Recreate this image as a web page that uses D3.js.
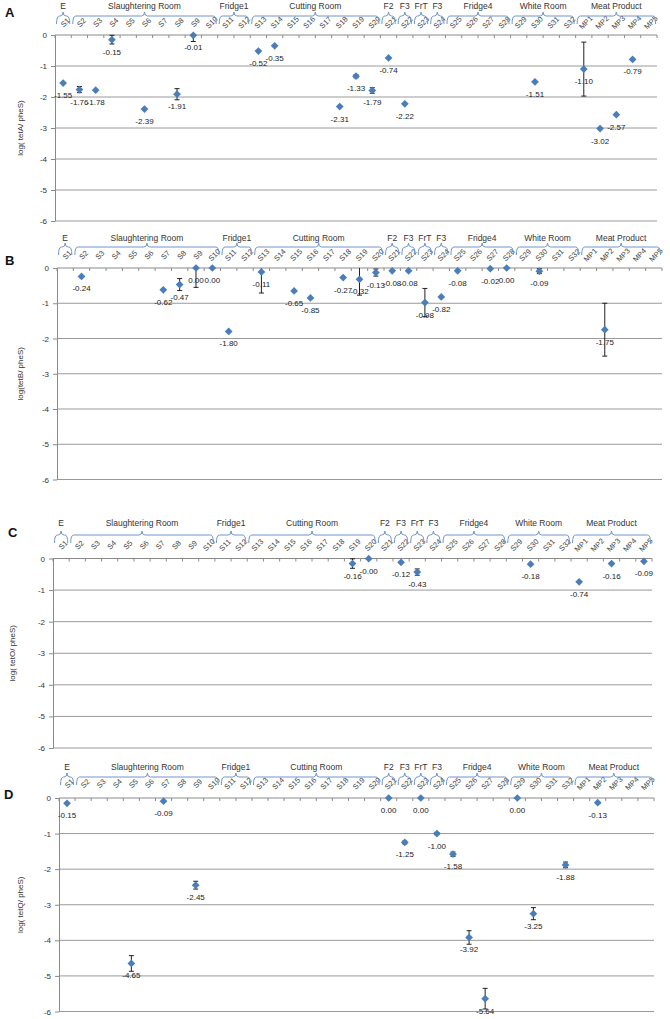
<!DOCTYPE html>
<html>
<head>
<meta charset="utf-8">
<script src="https://cdn.jsdelivr.net/npm/d3@7"></script>
<style>
  body { margin: 0; background: #fff; }
  text { font-family: "Liberation Sans", Arial, sans-serif; }
</style>
</head>
<body>
<svg id="chart" width="670" height="1019"></svg>
<script>
// categories along the top axis
const categories = ["S1","S2","S3","S4","S5","S6","S7","S8","S9","S10",
  "S11","S12","S13","S14","S15","S16","S17","S18","S19","S20",
  "S21","S22","S23","S24","S25","S26","S27","S28","S29","S30","S31","S32",
  "MP1","MP2","MP3","MP4","MP5"];
const groupNames = ["E","Slaughtering Room","Fridge1","Cutting Room","F2","F3","FrT","F3","Fridge4","White Room","Meat Product"];
const groupSizes = [1, 9, 2, 8, 1, 1, 1, 1, 4, 4, 5];
const yTicks = [0, -1, -2, -3, -4, -5, -6];

// A - tetA
const tetACats = ["S1","S2","S3","S4","S6","S8","S9","S13","S14","S18","S19","S20","S21","S22","S30","MP1","MP2","MP3","MP4"];
const tetAValues = [-1.55,-1.76,-1.78,-0.15,-2.39,-1.91,-0.01,-0.52,-0.35,-2.31,-1.33,-1.79,-0.74,-2.22,-1.51,-1.10,-3.02,-2.57,-0.79];
const tetAErrors = [0,0.1,0,0.14,0,0.18,0.2,0,0,0,0.05,0.09,0,0,0,0.87,0,0,0];

// B - tetB
const tetBCats = ["S2","S7","S8","S9","S10","S11","S13","S15","S16","S18","S19","S20","S21","S22","S23","S24","S25","S27","S28","S30","MP2"];
const tetBValues = [-0.24,-0.62,-0.47,0.00,0.00,-1.80,-0.11,-0.65,-0.85,-0.27,-0.32,-0.13,-0.08,-0.08,-0.98,-0.82,-0.08,-0.02,0.00,-0.09,-1.75];
const tetBErrors = [0,0,0.17,0.55,0,0,0.6,0,0,0,0.45,0.1,0,0,0.4,0,0,0,0,0.07,0.75];

// C - tetO
const tetOCats = ["S19","S20","S22","S23","S30","MP1","MP3","MP5"];
const tetOValues = [-0.16,-0.004,-0.12,-0.43,-0.18,-0.74,-0.16,-0.09];
const tetOErrors = [0.15,0,0,0.1,0,0,0,0];

// D - tetQ
const tetQCats = ["S1","S5","S7","S9","S21","S22","S23","S24","S25","S26","S27","S29","S30","S32","MP2"];
const tetQValues = [-0.15,-4.65,-0.09,-2.45,0.00,-1.25,0.00,-1.00,-1.58,-3.92,-5.64,0.00,-3.25,-1.88,-0.13];
const tetQErrors = [0,0.22,0,0.11,0,0.04,0,0.03,0.06,0.19,0.29,0,0.17,0.08,0];

const panels = [
  { letter: "A", title: "log( tetA/ pheS)", cats: tetACats, vals: tetAValues, errs: tetAErrors,
    left: 55, right: 657, top: 35, bottom: 221, letterX: 5, letterY: 17, titleX: 20, head: [29, 19, 12.5] },
  { letter: "B", title: "log(tetB/ pheS)", cats: tetBCats, vals: tetBValues, errs: tetBErrors,
    left: 57, right: 662, top: 268, bottom: 479.5, letterX: 5, letterY: 265, titleX: 20, head: [30, 21, 13] },
  { letter: "C", title: "log( tetO/ pheS)", cats: tetOCats, vals: tetOValues, errs: tetOErrors,
    left: 53, right: 652, top: 558.5, bottom: 748, letterX: 8, letterY: 537, titleX: 12, head: [35.5, 23.5, 13.5] },
  { letter: "D", title: "log( tetQ/ pheS)", cats: tetQCats, vals: tetQValues, errs: tetQErrors,
    left: 59, right: 654, top: 798, bottom: 1011.5, letterX: 4, letterY: 799, titleX: 20, head: [31, 21, 14.5] }
];

const svg = d3.select("#chart");
const axisGrey = "#8a8a8a";
const bracketBlue = "#7096cc";
const markerBlue = "#4a7ebb";

function drawPanel(p) {
  const x = d3.scaleBand().domain(categories).range([p.left, p.right]);
  const y = d3.scaleLinear().domain([-6, 0]).range([p.bottom, p.top]);
  const g = svg.append("g");

  // horizontal gridlines
  g.selectAll(".grid")
    .data(yTicks.filter(t => t < 0))
    .join("line")
    .attr("class", "grid")
    .attr("x1", p.left).attr("x2", p.right)
    .attr("y1", d => y(d)).attr("y2", d => y(d))
    .attr("stroke", "#9a9a9a").attr("stroke-width", 1);

  // value axis
  const yAxis = g.append("g")
    .attr("transform", "translate(" + p.left + ",0)")
    .call(d3.axisLeft(y).tickValues(yTicks).tickSize(4).tickSizeOuter(0).tickFormat(d => String(d)));
  yAxis.select(".domain").attr("stroke", axisGrey);
  yAxis.selectAll(".tick line").attr("stroke", axisGrey);
  yAxis.selectAll(".tick text")
    .attr("x", -8)
    .style("font-size", "8px").style("fill", "#333");

  // category axis along the top (crosses at 0)
  g.append("line")
    .attr("x1", p.left).attr("x2", p.right)
    .attr("y1", y(0)).attr("y2", y(0))
    .attr("stroke", axisGrey).attr("stroke-width", 1);
  const bounds = categories.map(c => x(c)).concat([p.right]);
  g.selectAll(".ctick")
    .data(bounds)
    .join("line")
    .attr("x1", d => d).attr("x2", d => d)
    .attr("y1", y(0)).attr("y2", y(0) + 3)
    .attr("stroke", axisGrey);

  // rotated category labels
  g.selectAll(".clabel")
    .data(categories)
    .join("text")
    .attr("transform", d => "translate(" + (x(d) + x.bandwidth() / 2 + 2) + "," + (p.top - p.head[2]) + ") rotate(-45)")
    .attr("text-anchor", "middle")
    .attr("dy", "0.35em")
    .style("font-size", "7.5px").style("fill", "#444")
    .text(d => d);

  // group brackets and names
  const ends = d3.cumsum(groupSizes);
  const by = p.top - p.head[1];
  groupNames.forEach((name, i) => {
    const first = categories[ends[i] - groupSizes[i]];
    const last = categories[ends[i] - 1];
    const x1 = x(first) + 1.5, x2 = x(last) + x.bandwidth() - 1.5;
    const cx = (x1 + x2) / 2;
    const path = d3.path();
    path.moveTo(x1, by + 8);
    path.quadraticCurveTo(x1, by, x1 + 3, by);
    path.lineTo(cx - 3, by);
    path.quadraticCurveTo(cx, by, cx, by - 4);
    path.quadraticCurveTo(cx, by, cx + 3, by);
    path.lineTo(x2 - 3, by);
    path.quadraticCurveTo(x2, by, x2, by + 8);
    g.append("path")
      .attr("d", path.toString())
      .attr("fill", "none")
      .attr("stroke", bracketBlue).attr("stroke-width", 1);
    g.append("text")
      .attr("x", cx).attr("y", p.top - p.head[0])
      .attr("text-anchor", "middle").attr("dy", "0.35em")
      .style("font-size", "8.5px").style("fill", "#333")
      .text(name);
  });

  // panel letter and axis title
  g.append("text")
    .attr("x", p.letterX).attr("y", p.letterY)
    .style("font-size", "13px").style("font-weight", "bold").style("fill", "#111")
    .text(p.letter);
  g.append("text")
    .attr("transform", "translate(" + p.titleX + "," + (p.top + p.bottom) / 2 + ") rotate(-90)")
    .attr("text-anchor", "middle").attr("dy", "0.35em")
    .style("font-size", "8px").style("fill", "#333")
    .text(p.title);

  const pts = p.cats.map((c, i) => ({ cat: c, v: p.vals[i], e: p.errs[i] }));
  const cxOf = d => x(d.cat) + x.bandwidth() / 2;

  // error bars
  const eb = g.selectAll(".err").data(pts.filter(d => d.e > 0)).join("g");
  eb.append("line")
    .attr("x1", cxOf).attr("x2", cxOf)
    .attr("y1", d => y(Math.min(0, d.v + d.e))).attr("y2", d => y(d.v - d.e))
    .attr("stroke", "#222").attr("stroke-width", 1);
  eb.filter(d => d.v + d.e < 0).append("line")
    .attr("x1", d => cxOf(d) - 2.5).attr("x2", d => cxOf(d) + 2.5)
    .attr("y1", d => y(d.v + d.e)).attr("y2", d => y(d.v + d.e))
    .attr("stroke", "#222");
  eb.append("line")
    .attr("x1", d => cxOf(d) - 2.5).attr("x2", d => cxOf(d) + 2.5)
    .attr("y1", d => y(d.v - d.e)).attr("y2", d => y(d.v - d.e))
    .attr("stroke", "#222");

  // diamond markers
  const diamond = d3.symbol().type(d3.symbolSquare).size(30);
  g.selectAll(".pt")
    .data(pts)
    .join("path")
    .attr("d", diamond)
    .attr("transform", d => "translate(" + cxOf(d) + "," + y(d.v) + ") rotate(45)")
    .attr("fill", markerBlue);

  // value labels below each point
  g.selectAll(".vlabel")
    .data(pts)
    .join("text")
    .attr("x", cxOf)
    .attr("y", d => y(d.v) + 15)
    .attr("text-anchor", "middle")
    .style("font-size", "8px").style("fill", "#222")
    .text(d => d.v.toFixed(2));
}

panels.forEach(drawPanel);
</script>
</body>
</html>
